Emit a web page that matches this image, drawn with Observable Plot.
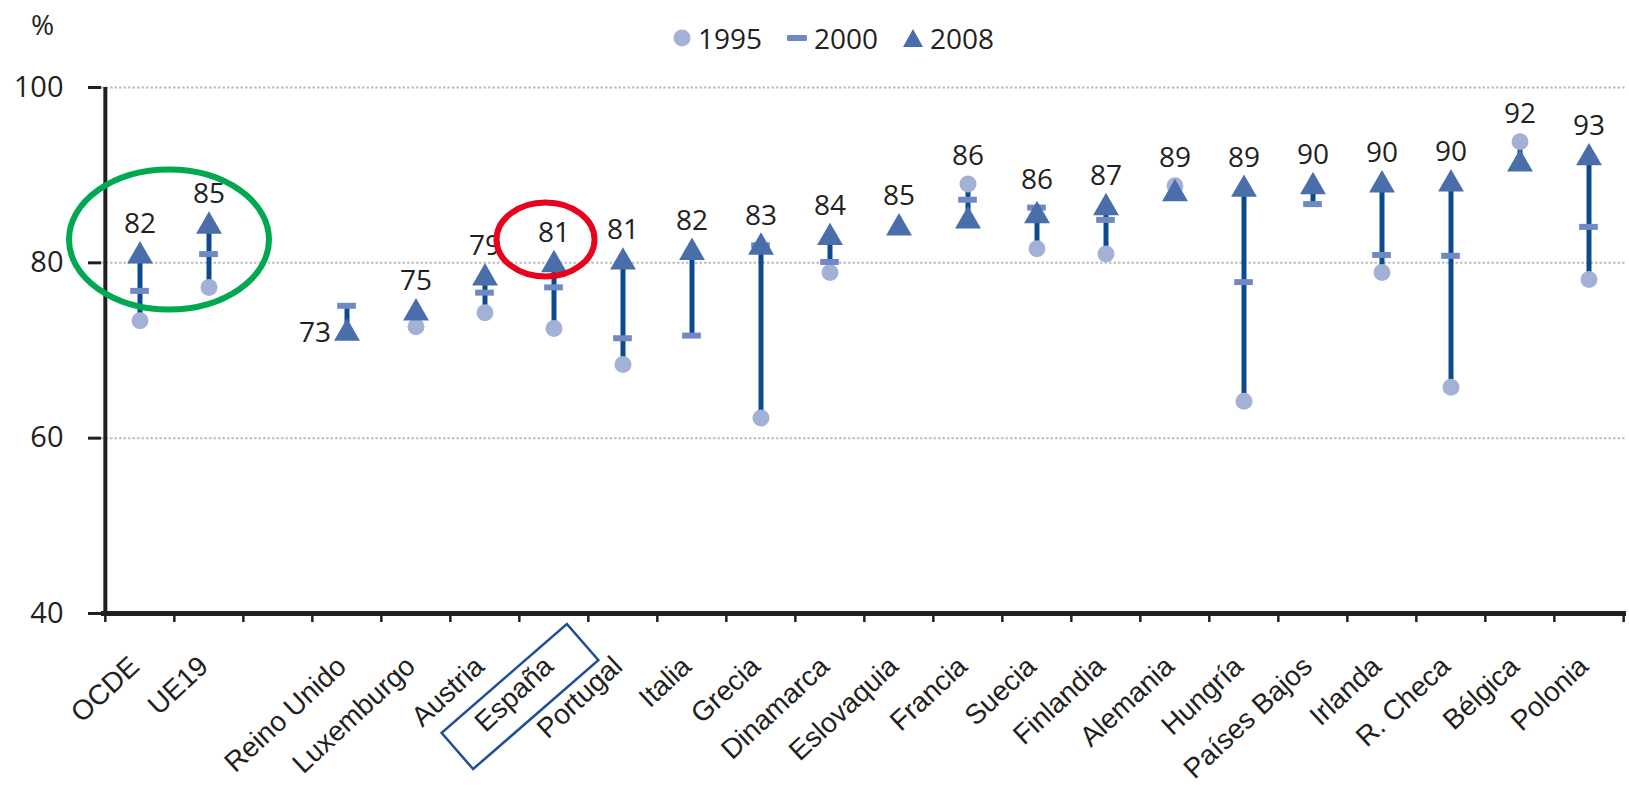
<!DOCTYPE html>
<html>
<head>
<meta charset="utf-8">
<script src="https://cdn.jsdelivr.net/npm/d3@7"></script>
<script src="https://cdn.jsdelivr.net/npm/@observablehq/plot@0.6"></script>
<style>
  body { margin: 0; background: #fff; }
  #wrap { position: relative; width: 1629px; height: 791px; font-family: "Open Sans", sans-serif; color: #231f20; }
  #pct { position: absolute; left: 31px; top: 4px; font-size: 28px; line-height: 40px; }
  #legend { position: absolute; left: 673px; top: 18px; display: flex; align-items: center; font-size: 28px; line-height: 40px; }
  #legend .item { display: flex; align-items: center; margin-right: 25px; }
  #legend svg { margin-right: 7px; }
  #chart { position: absolute; left: 0; top: 0; }
</style>
</head>
<body>
<div id="wrap">
  <div id="chart"></div>
  <div id="pct">%</div>
  <div id="legend"></div>
</div>
<script>
// ---- data ----
const countries = ["OCDE", "UE19", "Reino Unido", "Luxemburgo", "Austria", "España", "Portugal", "Italia", "Grecia", "Dinamarca", "Eslovaquia", "Francia", "Suecia", "Finlandia", "Alemania", "Hungría", "Países Bajos", "Irlanda", "R. Checa", "Bélgica", "Polonia"];
const v1995 = [73.4, 77.2, null, 72.7, 74.3, 72.5, 68.4, null, 62.3, 78.9, null, 89.0, 81.6, 81.0, 88.8, 64.2, null, 78.9, 65.8, 93.8, 78.1];
const v2000 = [76.8, 81.0, 75.1, null, 76.6, 77.2, 71.4, 71.7, 82.0, 80.1, null, 87.2, 86.3, 84.9, null, 77.8, 86.7, 80.9, 80.8, null, 84.1];
const v2008 = [81.2, 84.6, 72.4, 74.7, 78.7, 80.2, 80.5, 81.6, 82.2, 83.3, 84.4, 85.2, 85.8, 86.7, 88.3, 88.8, 89.1, 89.3, 89.4, 91.7, 92.4];
const labels2008 = ["82", "85", "73", "75", "79", "81", "81", "82", "83", "84", "85", "86", "86", "87", "89", "89", "90", "90", "90", "92", "93"];
const series = ["1995", "2000", "2008"];
const yTicks = [40, 60, 80, 100];
const gridTicks = [60, 80, 100];

// ---- derived table ----
const gap = " ";
const domain = [countries[0], countries[1], gap, ...countries.slice(2)];
const rows = countries.map((c, i) => {
  const vals = [v1995[i], v2000[i], v2008[i]].filter(v => v != null);
  return {c, a: v1995[i], b: v2000[i], t: v2008[i], label: labels2008[i], lo: d3.min(vals), hi: d3.max(vals)};
});

const W = 1629, H = 791, mL = 101, mR = 3, mT = 87, mB = 178;
const step = (W - mL - mR) / domain.length;
const ink = "#231f20";
const cCircle = "#a4b1d7", cDash = "#6f89c2", cTri = "#4a6ea9", cLine = "#0c4a8e";

const plot = Plot.plot({
  width: W, height: H,
  marginLeft: mL, marginRight: mR, marginTop: mT, marginBottom: mB,
  x: {type: "band", domain, padding: 0, axis: null, label: null},
  y: {domain: [40, 100], axis: null, label: null},
  style: {fontFamily: "Open Sans, sans-serif", background: "transparent", color: ink},
  marks: [
    Plot.ruleY(gridTicks, {stroke: "#bdbdbd", strokeWidth: 2, strokeDasharray: "2.5,2"}),
    Plot.axisY({ticks: yTicks, tickSize: 13, tickPadding: 25, fontSize: 29, strokeWidth: 3, color: ink, label: null, fontFamily: "Open Sans, sans-serif"}),
    Plot.ruleX([domain[0]], {dx: -step / 2, y1: 40, y2: 100, stroke: ink, strokeWidth: 4}),
    Plot.axisX({ticks: domain, tickSize: 9, tickFormat: () => "", label: null, dx: -step / 2, strokeWidth: 2.5, color: ink}),
    Plot.axisX({ticks: [domain[domain.length - 1]], tickSize: 9, tickFormat: () => "", label: null, dx: step / 2, strokeWidth: 2.5, color: ink}),
    Plot.ruleY([40], {stroke: ink, strokeWidth: 5}),
    Plot.text(countries, {x: d => d, frameAnchor: "bottom", rotate: -43, textAnchor: "end", dx: 1, dy: 55,
      fontSize: 28, fontFamily: "Liberation Sans, Arial, sans-serif", fill: ink}),
    Plot.ruleX(rows, {x: "c", y1: "lo", y2: "hi", stroke: cLine, strokeWidth: 5}),
    Plot.dot(rows.filter(d => d.a != null), {x: "c", y: "a", r: 8.5, fill: cCircle}),
    Plot.tickY(rows.filter(d => d.b != null), {x: "c", y: "b", stroke: cDash, strokeWidth: 6, inset: (step - 19) / 2}),
    Plot.dot(rows, {x: "c", y: "t", symbol: "triangle", r: 9.6, fill: cTri, dy: 3.7}),
    Plot.text(rows.filter(d => d.c !== "Reino Unido"), {x: "c", y: "hi", text: "label", dy: -28, fontSize: 28, fill: ink}),
    Plot.text(rows.filter(d => d.c === "Reino Unido"), {x: "c", y: "t", text: "label", dx: -32, dy: 4, fontSize: 28, fill: ink})
  ]
});
document.getElementById("chart").appendChild(plot);

// ---- annotations (ellipses and rotated box), positioned through the scales ----
const xs = plot.scale("x"), ys = plot.scale("y");
const bw = xs.bandwidth;
const svg = d3.select(plot);
const ann = svg.append("g").attr("fill", "none");
ann.append("ellipse")
  .attr("cx", xs.apply("UE19") - 5).attr("cy", ys.apply(82.6))
  .attr("rx", 100).attr("ry", 70)
  .attr("stroke", "#00a850").attr("stroke-width", 6);
ann.append("ellipse")
  .attr("cx", xs.apply("España") + bw / 2 - 8).attr("cy", ys.apply(82.6))
  .attr("rx", 49).attr("ry", 37)
  .attr("stroke", "#e8001c").attr("stroke-width", 6);
ann.append("rect")
  .attr("x", -83).attr("y", -24).attr("width", 166).attr("height", 48)
  .attr("transform", `translate(${xs.apply("España") + bw / 2 - 33.5},${ys.apply(40) + 83.5}) rotate(-41)`)
  .attr("stroke", "#1f4f97").attr("stroke-width", 2.5);

// ---- legend ----
const legend = d3.select("#legend");
const icons = {
  "1995": g => g.append("circle").attr("cx", 9).attr("cy", 10).attr("r", 8.5).attr("fill", cCircle),
  "2000": g => g.append("rect").attr("x", 0).attr("y", 7).attr("width", 20).attr("height", 6).attr("rx", 1).attr("fill", cDash),
  "2008": g => g.append("path").attr("d", "M10,1L20,19L0,19Z").attr("fill", cTri)
};
series.forEach(s => {
  const item = legend.append("div").attr("class", "item");
  const ic = item.append("svg").attr("width", s === "1995" ? 18 : 20).attr("height", 20);
  icons[s](ic);
  item.append("span").text(s);
});
</script>
</body>
</html>
